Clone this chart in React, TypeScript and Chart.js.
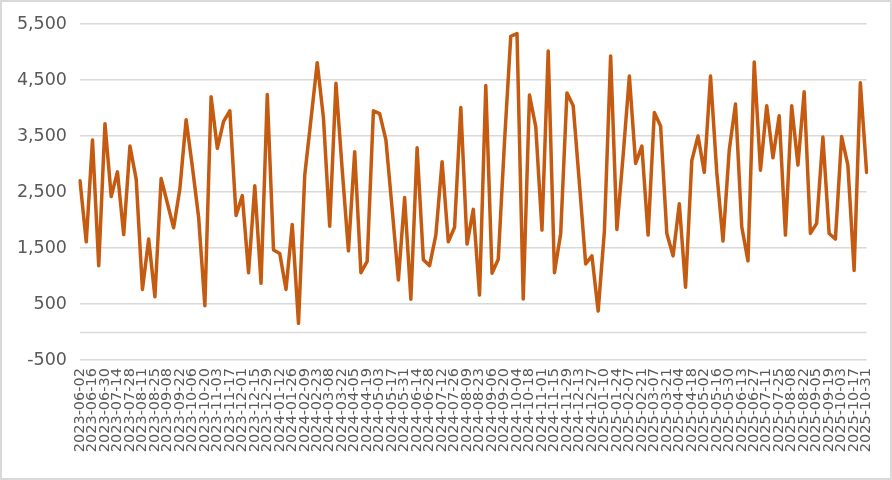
import React, { useEffect, useRef } from 'react';
import { Chart, registerables } from 'chart.js';

Chart.register(...registerables);

const categories: string[] = [
  '2023-06-02', '2023-06-09', '2023-06-16', '2023-06-23', '2023-06-30', '2023-07-07', '2023-07-14', '2023-07-21',
  '2023-07-28', '2023-08-04', '2023-08-11', '2023-08-18', '2023-08-25', '2023-09-01', '2023-09-08', '2023-09-15',
  '2023-09-22', '2023-09-29', '2023-10-06', '2023-10-13', '2023-10-20', '2023-10-27', '2023-11-03', '2023-11-10',
  '2023-11-17', '2023-11-24', '2023-12-01', '2023-12-08', '2023-12-15', '2023-12-22', '2023-12-29',
  '2024-01-05', '2024-01-12', '2024-01-19', '2024-01-26', '2024-02-02', '2024-02-09', '2024-02-16', '2024-02-23',
  '2024-03-01', '2024-03-08', '2024-03-15', '2024-03-22', '2024-03-29', '2024-04-05', '2024-04-12', '2024-04-19',
  '2024-04-26', '2024-05-03', '2024-05-10', '2024-05-17', '2024-05-24', '2024-05-31', '2024-06-07', '2024-06-14',
  '2024-06-21', '2024-06-28', '2024-07-05', '2024-07-12', '2024-07-19', '2024-07-26', '2024-08-02', '2024-08-09',
  '2024-08-16', '2024-08-23', '2024-08-30', '2024-09-06', '2024-09-13', '2024-09-20', '2024-09-27', '2024-10-04',
  '2024-10-11', '2024-10-18', '2024-10-25', '2024-11-01', '2024-11-08', '2024-11-15', '2024-11-22', '2024-11-29',
  '2024-12-06', '2024-12-13', '2024-12-20', '2024-12-27',
  '2025-01-03', '2025-01-10', '2025-01-17', '2025-01-24', '2025-01-31', '2025-02-07', '2025-02-14', '2025-02-21',
  '2025-02-28', '2025-03-07', '2025-03-14', '2025-03-21', '2025-03-28', '2025-04-04', '2025-04-11', '2025-04-18',
  '2025-04-25', '2025-05-02', '2025-05-09', '2025-05-16', '2025-05-23', '2025-05-30', '2025-06-06', '2025-06-13',
  '2025-06-20', '2025-06-27', '2025-07-04', '2025-07-11', '2025-07-18', '2025-07-25', '2025-08-01', '2025-08-08',
  '2025-08-15', '2025-08-22', '2025-08-29', '2025-09-05', '2025-09-12', '2025-09-19', '2025-09-26', '2025-10-03',
  '2025-10-10', '2025-10-17', '2025-10-24', '2025-10-31',
];

const seriesValues: number[] = [
  2700, 1610, 3430, 1185, 3720, 2420, 2860, 1740, 3320, 2730,
  760, 1660, 630, 2740, 2300, 1860, 2560, 3790, 2950, 2050,
  470, 4200, 3280, 3760, 3950, 2080, 2435, 1060, 2610, 870,
  4240, 1465, 1400, 760, 1920, 155, 2800, 3800, 4810, 3820,
  1890, 4440, 2900, 1450, 3220, 1060, 1260, 3950, 3900, 3430,
  2200, 930, 2400, 585, 3290, 1290, 1185, 1730, 3040, 1610,
  1870, 4010, 1570, 2190, 660, 4400, 1050, 1300, 3400, 5280,
  5330, 590, 4230, 3670, 1820, 5020, 1060, 1760, 4270, 4040,
  2650, 1215, 1360, 375, 1800, 4930, 1830, 3150, 4570, 3010,
  3320, 1730, 3920, 3680, 1760, 1360, 2290, 800, 3060, 3500,
  2850, 4570, 2850, 1625, 3250, 4070, 1880, 1270, 4820, 2890,
  4040, 3110, 3860, 1730, 4040, 2980, 4290, 1760, 1940, 3480,
  1760, 1660, 3490, 2980, 1100, 4450, 2850,
];

const yTickValues: number[] = [-500, 500, 1500, 2500, 3500, 4500, 5500];

export default function App() {
  const canvasRef = useRef<HTMLCanvasElement | null>(null);

  useEffect(() => {
    document.body.style.margin = '0';
    const canvas = canvasRef.current;
    if (!canvas) return;

    const zeroLine = {
      id: 'zeroLine',
      beforeDatasetsDraw(chart: any) {
        const { ctx, chartArea, scales } = chart;
        const y = Math.round(scales.y.getPixelForValue(0)) + 0.5;
        ctx.save();
        ctx.strokeStyle = '#d9d9d9';
        ctx.lineWidth = 1.5;
        ctx.beginPath();
        ctx.moveTo(chartArea.left, y);
        ctx.lineTo(chartArea.right, y);
        ctx.stroke();
        ctx.restore();
      },
    };

    const frame = {
      id: 'frame',
      afterDraw(chart: any) {
        const { ctx } = chart;
        ctx.save();
        ctx.strokeStyle = '#d9d9d9';
        ctx.lineWidth = 2;
        ctx.strokeRect(1, 1, chart.width - 2, chart.height - 2);
        ctx.restore();
      },
    };

    const chart = new Chart(canvas, {
      type: 'line',
      data: {
        labels: categories,
        datasets: [
          {
            data: seriesValues,
            borderColor: '#C55A11',
            backgroundColor: '#C55A11',
            borderWidth: 3.5,
            borderJoinStyle: 'round',
            borderCapStyle: 'round',
            pointRadius: 0,
            pointHoverRadius: 0,
            tension: 0,
            fill: false,
          },
        ],
      },
      options: {
        animation: false,
        responsive: false,
        maintainAspectRatio: false,
        layout: { padding: { left: 8, right: 25, top: 24, bottom: 0 } },
        plugins: {
          legend: { display: false },
          tooltip: { enabled: false },
          title: { display: false },
        },
        scales: {
          x: {
            type: 'category',
            offset: false,
            grid: { display: false, drawTicks: false },
            border: { display: false },
            afterFit(scale: any) {
              scale.height = 120;
            },
            ticks: {
              autoSkip: false,
              minRotation: 90,
              maxRotation: 90,
              padding: 8,
              color: '#595959',
              font: { family: '"DejaVu Sans", sans-serif', size: 14.5 },
              callback: (_v: any, idx: number) => (idx % 2 === 0 ? categories[idx] : ''),
            },
          },
          y: {
            min: -500,
            max: 5500,
            afterBuildTicks(scale: any) {
              scale.ticks = yTickValues.map((v) => ({ value: v }));
            },
            afterFit(scale: any) {
              scale.width = 72;
            },
            grid: { color: '#d9d9d9', lineWidth: 1.5, drawTicks: false },
            border: { display: false },
            ticks: {
              padding: 13,
              color: '#595959',
              font: { family: '"DejaVu Sans", sans-serif', size: 17.5 },
              callback: (v: any) => Number(v).toLocaleString('en-US'),
            },
          },
        },
      },
      plugins: [zeroLine, frame],
    });

    return () => {
      chart.destroy();
    };
  }, []);

  return (
    <div style={{ width: 892, height: 480 }}>
      <canvas ref={canvasRef} width={892} height={480} style={{ display: 'block', width: 892, height: 480 }} />
    </div>
  );
}
